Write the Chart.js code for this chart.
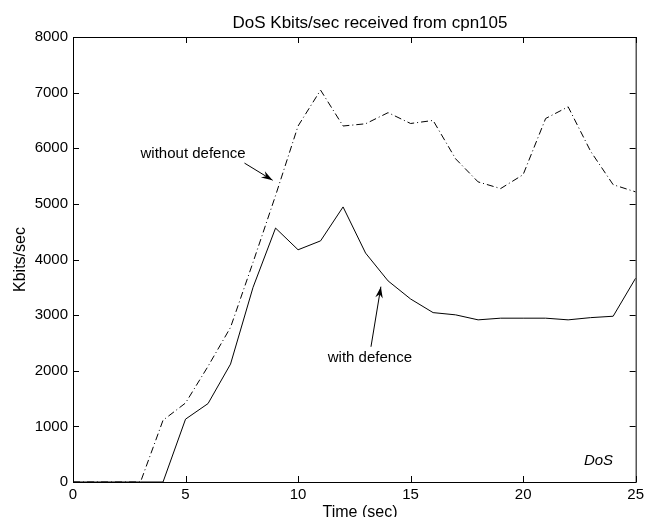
<!DOCTYPE html>
<html>
<head>
<meta charset="utf-8">
<script src="https://cdn.jsdelivr.net/npm/chart.js@4"></script>
<style>
  html, body { margin: 0; padding: 0; background: #fff; }
  #wrap { width: 648px; height: 517px; }
</style>
</head>
<body>
<div id="wrap"><canvas id="grafica"></canvas></div>
<script>
const tiempos = [0, 1, 2, 3, 4, 5, 6, 7, 8, 9, 10, 11, 12, 13, 14, 15, 16, 17, 18, 19, 20, 21, 22, 23, 24, 25];
const sinDefensa = [0, 0, 0, 0, 1110, 1420, 2080, 2780, 3950, 5150, 6400, 7045, 6400, 6440, 6640, 6445, 6500, 5810, 5395, 5275, 5525, 6535, 6745, 5945, 5345, 5215];
const conDefensa = [0, 0, 0, 0, 0, 1130, 1410, 2120, 3500, 4565, 4175, 4335, 4945, 4115, 3615, 3290, 3045, 3005, 2915, 2945, 2945, 2945, 2915, 2955, 2980, 3665];
const ticksX = [0, 5, 10, 15, 20, 25];
const ticksY = [0, 1000, 2000, 3000, 4000, 5000, 6000, 7000, 8000];

const titulo = 'DoS Kbits/sec received from cpn105';
const tituloX = 'Time (sec)';
const tituloY = 'Kbits/sec';

// anotaciones en unidades de datos
const notas = [
    { texto: 'without defence', x: 3.0, y: 5824, italica: false },
    { texto: 'with defence', x: 11.32, y: 2155, italica: false },
    { texto: 'DoS', x: 22.7, y: 300, italica: true }
];
const flechas = [
    { desde: [7.62, 5733], hasta: [8.87, 5424] },
    { desde: [13.24, 2431], hasta: [13.68, 3512] }
];

const FUENTE = '"Liberation Sans", Arial, Helvetica, sans-serif';

const marco = {
    id: 'marco',
    afterDraw(chart) {
        const { ctx, chartArea: a, scales } = chart;
        const sx = scales.x, sy = scales.y;
        ctx.save();
        ctx.strokeStyle = '#000';
        ctx.lineWidth = 1;
        ctx.strokeRect(a.left + 0.5, a.top + 0.5, a.right - a.left, a.bottom - a.top);

        // marcas hacia dentro en los cuatro lados
        const largo = 6;
        ctx.beginPath();
        ticksX.forEach(v => {
            const px = Math.round(sx.getPixelForValue(v)) + 0.5;
            ctx.moveTo(px, a.bottom); ctx.lineTo(px, a.bottom - largo);
            ctx.moveTo(px, a.top); ctx.lineTo(px, a.top + largo);
        });
        ticksY.forEach(v => {
            const py = Math.round(sy.getPixelForValue(v)) + 0.5;
            ctx.moveTo(a.left, py); ctx.lineTo(a.left + largo, py);
            ctx.moveTo(a.right, py); ctx.lineTo(a.right - largo, py);
        });
        ctx.stroke();

        ctx.fillStyle = '#000';
        ctx.font = `17px ${FUENTE}`;
        ctx.textAlign = 'center';
        ctx.textBaseline = 'alphabetic';
        ctx.fillText(titulo, 370, 28);

        ctx.font = `16px ${FUENTE}`;
        ctx.fillText(tituloX, 360, 517);

        ctx.save();
        ctx.translate(25, (a.top + a.bottom) / 2);
        ctx.rotate(-Math.PI / 2);
        ctx.fillText(tituloY, 0, 0);
        ctx.restore();

        ctx.textAlign = 'left';
        notas.forEach(n => {
            ctx.font = `${n.italica ? 'italic ' : ''}15px ${FUENTE}`;
            ctx.fillText(n.texto, sx.getPixelForValue(n.x), sy.getPixelForValue(n.y));
        });

        flechas.forEach(f => {
            const x1 = sx.getPixelForValue(f.desde[0]), y1 = sy.getPixelForValue(f.desde[1]);
            const x2 = sx.getPixelForValue(f.hasta[0]), y2 = sy.getPixelForValue(f.hasta[1]);
            const ang = Math.atan2(y2 - y1, x2 - x1);
            ctx.beginPath();
            ctx.moveTo(x1, y1);
            ctx.lineTo(x2, y2);
            ctx.stroke();
            const punta = 12, abre = 0.32;
            ctx.beginPath();
            ctx.moveTo(x2, y2);
            ctx.lineTo(x2 - punta * Math.cos(ang - abre), y2 - punta * Math.sin(ang - abre));
            ctx.lineTo(x2 - punta * 0.65 * Math.cos(ang), y2 - punta * 0.65 * Math.sin(ang));
            ctx.lineTo(x2 - punta * Math.cos(ang + abre), y2 - punta * Math.sin(ang + abre));
            ctx.closePath();
            ctx.fill();
        });
        ctx.restore();
    }
};

new Chart(document.getElementById('grafica'), {
    type: 'line',
    data: {
        datasets: [
            {
                label: 'without defence',
                data: tiempos.map((t, i) => ({ x: t, y: sinDefensa[i] })),
                borderColor: '#000',
                borderWidth: 1,
                borderDash: [7, 3, 1, 3],
                pointRadius: 0,
                tension: 0,
                fill: false
            },
            {
                label: 'with defence',
                data: tiempos.map((t, i) => ({ x: t, y: conDefensa[i] })),
                borderColor: '#000',
                borderWidth: 1,
                pointRadius: 0,
                tension: 0,
                fill: false
            }
        ]
    },
    options: {
        responsive: true,
        maintainAspectRatio: false,
        animation: false,
        events: [],
        layout: { padding: { top: 37, right: 11, left: 0, bottom: 0 } },
        plugins: { legend: { display: false }, title: { display: false }, tooltip: { enabled: false } },
        scales: {
            x: {
                type: 'linear',
                min: 0,
                max: 25,
                afterFit: s => { s.height = 35; },
                afterBuildTicks: s => { s.ticks = ticksX.map(v => ({ value: v })); },
                grid: { display: false, drawTicks: false },
                border: { display: false },
                ticks: { color: '#000', padding: 4, maxRotation: 0, font: { family: FUENTE, size: 15 }, callback: v => String(v) }
            },
            y: {
                type: 'linear',
                min: 0,
                max: 8000,
                afterFit: s => { s.width = 73; },
                afterBuildTicks: s => { s.ticks = ticksY.map(v => ({ value: v })); },
                grid: { display: false, drawTicks: false },
                border: { display: false },
                ticks: { color: '#000', padding: 5, font: { family: FUENTE, size: 15 }, callback: v => String(v) }
            }
        }
    },
    plugins: [marco]
});
</script>
</body>
</html>
